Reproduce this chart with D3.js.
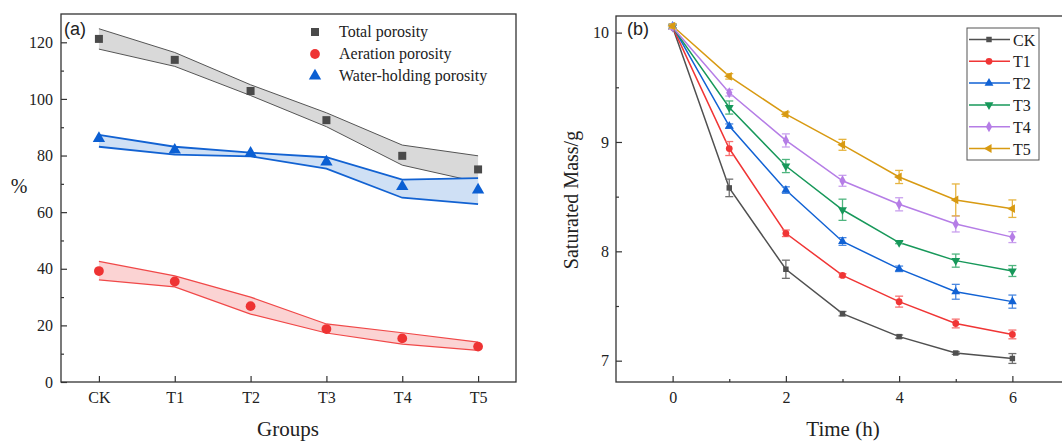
<!DOCTYPE html>
<html><head><meta charset="utf-8">
<script src="https://cdn.jsdelivr.net/npm/d3@7"></script>
<style>body{margin:0;background:#fff}svg{display:block}</style>
</head><body>
<svg id="c" width="1062" height="441"></svg>
<script>
// ---------- Panel (a) data ----------
const groups = ["CK","T1","T2","T3","T4","T5"];
const totalPts   = [121.2,113.8,102.8,92.5,79.9,75.1];
const totalUp    = [124.8,116.4,105.0,95.1,83.7,79.9];
const totalLo    = [117.6,111.5,101.2,90.2,76.6,70.6];
const aerPts     = [39.2,35.5,26.8,18.7,15.4,12.5];
const aerUp      = [42.6,37.5,30.0,20.5,17.4,14.1];
const aerLo      = [36.1,33.6,24.0,17.3,13.4,11.2];
const waterPts   = [85.7,81.6,80.5,77.4,68.7,67.5];
const waterUp    = [87.3,83.1,81.0,79.4,71.5,72.0];
const waterLo    = [83.1,80.3,79.7,75.4,65.1,62.8];
const aTicks     = [0,20,40,60,80,100,120];
const aMinor     = [10,30,50,70,90,110];

// ---------- Panel (b) data ----------
const hours = [0,1,2,3,4,5,6];
const seriesNames = ["CK","T1","T2","T3","T4","T5"];
const massCK = [10.05,8.58,7.836,7.43,7.22,7.07,7.02];
const massT1 = [10.05,8.94,8.165,7.78,7.54,7.34,7.24];
const massT2 = [10.06,9.145,8.56,8.09,7.84,7.63,7.54];
const massT3 = [10.05,9.315,8.78,8.38,8.08,7.915,7.82];
const massT4 = [10.05,9.45,9.014,8.645,8.43,8.25,8.13];
const massT5 = [10.06,9.60,9.254,8.974,8.68,8.47,8.39];
const errCK = [0.02,0.08,0.083,0.02,0.015,0.012,0.045];
const errT1 = [0.02,0.064,0.03,0.015,0.05,0.04,0.04];
const errT2 = [0.02,0.02,0.03,0.035,0.025,0.068,0.06];
const errT3 = [0.02,0.06,0.06,0.097,0.01,0.06,0.05];
const errT4 = [0.02,0.03,0.06,0.05,0.06,0.073,0.05];
const errT5 = [0.02,0.025,0.02,0.05,0.06,0.146,0.08];
const bTicksY = [7,8,9,10];
const bMinorY = [7.5,8.5,9.5];
const bTicksX = [0,2,4,6];
const bMinorX = [1,3,5];

const svg = d3.select("#c");
const serif = "'Liberation Serif','Times New Roman',serif";
const sans = "'Liberation Sans',Arial,sans-serif";

function styleAxis(g){
  g.select(".domain").remove();
  g.selectAll("line").attr("stroke","#333").attr("stroke-width",1.2);
  g.selectAll("text").attr("font-family",serif).attr("font-size",16).attr("fill","#222");
}

// ================= Panel A =================
const A = {l:61,t:14,r:516,b:382};
const xa = d3.scalePoint().domain(groups).range([A.l,A.r]).padding(0.5);
const ya = d3.scaleLinear().domain([0,130]).range([A.b,A.t]);
const ga = svg.append("g");

function band(up, lo, fill, stroke, sw){
  const area = d3.area().x((d,i)=>xa(groups[i])).y0((d,i)=>ya(lo[i])).y1((d,i)=>ya(up[i]));
  ga.append("path").datum(up).attr("d",area).attr("fill",fill);
  const line = d3.line().x((d,i)=>xa(groups[i])).y(d=>ya(d));
  ga.append("path").datum(up).attr("d",line).attr("fill","none").attr("stroke",stroke).attr("stroke-width",sw);
  ga.append("path").datum(lo).attr("d",line).attr("fill","none").attr("stroke",stroke).attr("stroke-width",sw);
}
band(totalUp,totalLo,"#d9d9d9","#555",1);
band(aerUp,aerLo,"#fbd3d3","#f04848",1.2);
band(waterUp,waterLo,"#cfe0f5","#1262d2",1.8);

const symSq = d3.symbol().type(d3.symbolSquare).size(64);
const symCi = d3.symbol().type(d3.symbolCircle).size(75);
const symTr = d3.symbol().type(d3.symbolTriangle).size(66);
ga.selectAll(".tp").data(totalPts).join("path").attr("d",symSq)
  .attr("transform",(d,i)=>`translate(${xa(groups[i])},${ya(d)})`).attr("fill","#4a4a4a");
ga.selectAll(".ap").data(aerPts).join("path").attr("d",symCi)
  .attr("transform",(d,i)=>`translate(${xa(groups[i])},${ya(d)})`).attr("fill","#ee3333");
ga.selectAll(".wp").data(waterPts).join("path").attr("d",symTr)
  .attr("transform",(d,i)=>`translate(${xa(groups[i])},${ya(d)-1})`).attr("fill","#0b5fd3");

ga.append("rect").attr("x",A.l).attr("y",A.t).attr("width",A.r-A.l).attr("height",A.b-A.t)
  .attr("fill","none").attr("stroke","#333").attr("stroke-width",1.3);
styleAxis(ga.append("g").attr("transform",`translate(${A.l},0)`)
  .call(d3.axisLeft(ya).tickValues(aTicks).tickSize(-6).tickPadding(8)));
styleAxis(ga.append("g").attr("transform",`translate(${A.l},0)`)
  .call(d3.axisLeft(ya).tickValues(aMinor).tickSize(-3).tickFormat("")));
styleAxis(ga.append("g").attr("transform",`translate(0,${A.b})`)
  .call(d3.axisBottom(xa).tickSize(-6).tickPadding(10)));

ga.append("text").attr("x",64).attr("y",35).text("(a)").attr("font-family",sans).attr("font-size",18).attr("fill","#222");
ga.append("text").attr("x",19).attr("y",193).attr("text-anchor","middle").text("%")
  .attr("font-family",serif).attr("font-size",20).attr("fill","#222");
ga.append("text").attr("x",288).attr("y",436).attr("text-anchor","middle").text("Groups")
  .attr("font-family",serif).attr("font-size",21).attr("fill","#222");

const legA = [["Total porosity",symSq,"#4a4a4a"],["Aeration porosity",symCi,"#ee3333"],["Water-holding porosity",symTr,"#0b5fd3"]];
legA.forEach((d,i)=>{
  const y = 32 + i*22;
  ga.append("path").attr("d",d[1]).attr("transform",`translate(315,${y})`).attr("fill",d[2]);
  ga.append("text").attr("x",339).attr("y",y+5).text(d[0]).attr("font-family",serif).attr("font-size",16).attr("fill","#222");
});

// ================= Panel B =================
const B = {l:616,t:16,b:382};
const xb = d3.scaleLinear().domain([-1,7]).range([B.l,B.l+453]);
const yb = d3.scaleLinear().domain([6.805,10.152]).range([B.b,B.t]);
const gb = svg.append("g");
const allMass = [massCK,massT1,massT2,massT3,massT4,massT5];
const allErr = [errCK,errT1,errT2,errT3,errT4,errT5];
const colors = ["#505050","#f03535","#1162d4","#17985a","#b57de6","#d89a12"];
const errColors = ["#707070","#f77070","#4a88e0","#4fb57f","#c9a0ee","#e6b440"];
const symbols = [
  d3.symbol().type(d3.symbolSquare).size(30),
  d3.symbol().type(d3.symbolCircle).size(36),
  d3.symbol().type(d3.symbolTriangle).size(34),
  d3.symbol().type(d3.symbolTriangle).size(34),
  d3.symbol().type(d3.symbolDiamond).size(34),
  d3.symbol().type(d3.symbolTriangle).size(34)
];
const rot = [0,0,0,180,0,-90];

allMass.forEach((vals,s)=>{
  const line = d3.line().x((d,i)=>xb(hours[i])).y(d=>yb(d));
  gb.append("path").datum(vals).attr("d",line).attr("fill","none").attr("stroke",colors[s]).attr("stroke-width",1.5);
});
allMass.forEach((vals,s)=>{
  const g = gb.append("g");
  vals.forEach((v,i)=>{
    const x = xb(hours[i]), e = allErr[s][i];
    const y1 = yb(v+e), y2 = yb(v-e);
    g.append("line").attr("x1",x).attr("x2",x).attr("y1",y1).attr("y2",y2).attr("stroke",errColors[s]).attr("stroke-width",1.3);
    g.append("line").attr("x1",x-4).attr("x2",x+4).attr("y1",y1).attr("y2",y1).attr("stroke",errColors[s]).attr("stroke-width",1.3);
    g.append("line").attr("x1",x-4).attr("x2",x+4).attr("y1",y2).attr("y2",y2).attr("stroke",errColors[s]).attr("stroke-width",1.3);
    g.append("path").attr("d",symbols[s]).attr("transform",`translate(${x},${yb(v)}) rotate(${rot[s]})`).attr("fill",colors[s]);
  });
});

gb.append("rect").attr("x",B.l).attr("y",B.t).attr("width",xb(7)-B.l).attr("height",B.b-B.t)
  .attr("fill","none").attr("stroke","#333").attr("stroke-width",1.3);
styleAxis(gb.append("g").attr("transform",`translate(${B.l},0)`)
  .call(d3.axisLeft(yb).tickValues(bTicksY).tickSize(-6).tickPadding(7).tickFormat(d3.format("d"))));
styleAxis(gb.append("g").attr("transform",`translate(${B.l},0)`)
  .call(d3.axisLeft(yb).tickValues(bMinorY).tickSize(-3).tickFormat("")));
styleAxis(gb.append("g").attr("transform",`translate(0,${B.b})`)
  .call(d3.axisBottom(xb).tickValues(bTicksX).tickSize(-6).tickPadding(10)));
styleAxis(gb.append("g").attr("transform",`translate(0,${B.b})`)
  .call(d3.axisBottom(xb).tickValues(bMinorX).tickSize(-3).tickFormat("")));

gb.append("text").attr("x",627).attr("y",35).text("(b)").attr("font-family",sans).attr("font-size",18).attr("fill","#222");
gb.append("text").attr("transform","translate(578,200) rotate(-90)").attr("text-anchor","middle")
  .text("Saturated Mass/g").attr("font-family",serif).attr("font-size",20).attr("fill","#222");
gb.append("text").attr("x",843).attr("y",436).attr("text-anchor","middle").text("Time (h)")
  .attr("font-family",serif).attr("font-size",21).attr("fill","#222");

gb.append("rect").attr("x",967).attr("y",28).attr("width",72).attr("height",132)
  .attr("fill","#fff").attr("stroke","#555").attr("stroke-width",1);
seriesNames.forEach((n,s)=>{
  const y = 39.5 + s*21.8;
  gb.append("line").attr("x1",969).attr("x2",1010).attr("y1",y).attr("y2",y).attr("stroke",colors[s]).attr("stroke-width",1.5);
  gb.append("path").attr("d",symbols[s]).attr("transform",`translate(989,${y}) rotate(${rot[s]})`).attr("fill",colors[s]);
  gb.append("text").attr("x",1013).attr("y",y+6).text(n).attr("font-family",serif).attr("font-size",16).attr("fill","#222");
});
</script>
</body></html>
